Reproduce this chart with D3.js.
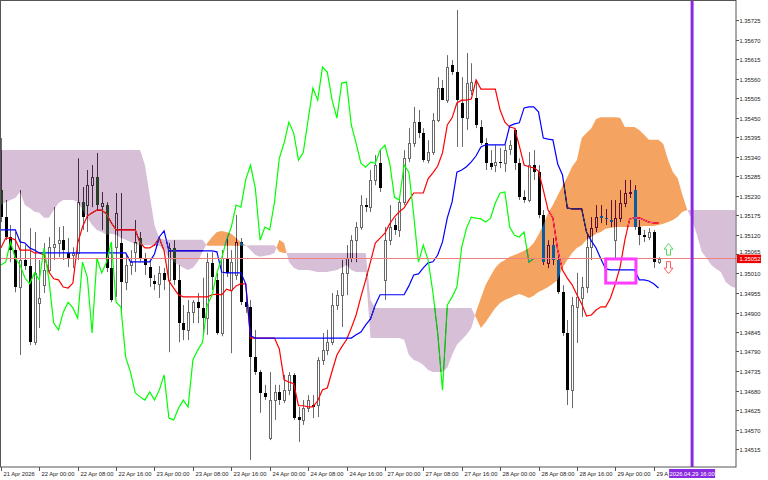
<!DOCTYPE html>
<html><head><meta charset="utf-8">
<script src="https://cdn.jsdelivr.net/npm/d3@7/dist/d3.min.js"></script>
<style>html,body{margin:0;padding:0;background:#fff;}svg{display:block;}</style>
</head><body>
<svg id="chart" width="768" height="480"></svg>
<script>
// ---------- DATA (H1 candles, 21 Apr 16:00 .. 29 Apr 09:00) ----------
const open = [1.35245,1.35169,1.35113,1.35076,1.34972,1.35048,1.35031,1.34816,1.34927,1.34978,
1.35020,1.35084,1.35096,1.35104,1.35068,1.35062,1.35068,1.35211,1.35203,1.35259,
1.35282,1.35200,1.35203,1.35026,1.35084,1.35096,1.34986,1.35034,1.35070,1.35110,
1.35053,1.35028,1.34989,1.34981,1.35012,1.34992,1.35082,1.34992,1.34870,1.34851,
1.34901,1.34929,1.34913,1.34884,1.35040,1.34992,1.34842,1.35053,1.34963,1.35006,
1.35099,1.34929,1.34915,1.34774,1.34732,1.34673,1.34546,1.34653,1.34676,1.34653,
1.34681,1.34724,1.34605,1.34597,1.34630,1.34639,1.34639,1.34766,1.34794,1.34816,
1.34921,1.34949,1.35012,1.35053,1.35104,1.35141,1.35203,1.35197,1.35274,1.35321,
1.34992,1.35104,1.35147,1.35133,1.35211,1.35335,1.35378,1.35437,1.35406,1.35330,
1.35352,1.35443,1.35533,1.35499,1.35598,1.35578,1.35491,1.35448,1.35527,1.35505,
1.35423,1.35378,1.35321,1.35316,1.35324,1.35321,1.35361,1.35415,1.35321,1.35225,
1.35217,1.35316,1.35296,1.35175,1.35040,1.35090,1.35048,1.34957,1.34842,1.34681,
1.34915,1.34941,1.34972,1.35084,1.35141,1.35172,1.35166,1.35161,1.35104,1.35166,
1.35209,1.35237,1.35245,1.35141,1.35118,1.35113,1.35127,1.35042];
const high = [1.35392,1.35217,1.35147,1.35127,1.35245,1.35090,1.35138,1.35127,1.35048,1.35096,
1.35113,1.35197,1.35141,1.35144,1.35110,1.35084,1.35335,1.35254,1.35302,1.35316,
1.35350,1.35240,1.35211,1.35099,1.35237,1.35237,1.35062,1.35076,1.35161,1.35127,
1.35068,1.35048,1.35006,1.35031,1.35026,1.35096,1.35104,1.35034,1.34921,1.34935,
1.34935,1.34955,1.34998,1.35068,1.35070,1.35012,1.35076,1.35113,1.35076,1.35175,
1.35110,1.34949,1.34935,1.34851,1.34738,1.34696,1.34732,1.34696,1.34696,1.34724,
1.34732,1.34729,1.34633,1.34653,1.34667,1.34667,1.34774,1.34842,1.34851,1.34955,
1.34963,1.35048,1.35090,1.35118,1.35155,1.35231,1.35223,1.35302,1.35344,1.35358,
1.35141,1.35203,1.35167,1.35223,1.35358,1.35420,1.35480,1.35471,1.35420,1.35386,
1.35462,1.35564,1.35556,1.35626,1.35612,1.35753,1.35564,1.35632,1.35603,1.35556,
1.35443,1.35392,1.35358,1.35372,1.35364,1.35372,1.35386,1.35420,1.35335,1.35245,
1.35352,1.35358,1.35316,1.35189,1.35104,1.35110,1.35062,1.34977,1.34879,1.34944,
1.35012,1.35000,1.35118,1.35169,1.35203,1.35203,1.35192,1.35217,1.35217,1.35245,
1.35274,1.35274,1.35259,1.35161,1.35133,1.35138,1.35133,1.35056];
const low = [1.35155,1.35104,1.35042,1.34957,1.34780,1.35020,1.34808,1.34808,1.34856,1.34955,
1.35012,1.35048,1.35056,1.35048,1.35028,1.35025,1.35048,1.35133,1.35127,1.35197,
1.35189,1.35133,1.35014,1.34929,1.34944,1.34899,1.34963,1.35006,1.35014,1.35042,
1.35006,1.34972,1.34963,1.34941,1.34963,1.34788,1.34978,1.34816,1.34822,1.34822,
1.34870,1.34870,1.34837,1.34837,1.34963,1.34837,1.34833,1.35000,1.34785,1.34992,
1.34921,1.34899,1.34484,1.34724,1.34617,1.34653,1.34540,1.34597,1.34639,1.34645,
1.34667,1.34597,1.34535,1.34583,1.34619,1.34602,1.34605,1.34752,1.34780,1.34808,
1.34907,1.34859,1.34949,1.35042,1.35042,1.35133,1.35183,1.35183,1.35259,1.35240,
1.34935,1.35090,1.35119,1.35113,1.35203,1.35324,1.35367,1.35392,1.35324,1.35321,
1.35344,1.35437,1.35499,1.35491,1.35570,1.35367,1.35367,1.35415,1.35513,1.35420,
1.35372,1.35302,1.35302,1.35296,1.35307,1.35296,1.35344,1.35302,1.35217,1.35209,
1.35211,1.35274,1.35166,1.35034,1.35025,1.35034,1.34952,1.34834,1.34639,1.34630,
1.34814,1.34887,1.34955,1.35048,1.35127,1.35152,1.35147,1.35141,1.35053,1.35155,
1.35197,1.35223,1.35133,1.35090,1.35099,1.35104,1.35026,1.35037];
const close = [1.35169,1.35113,1.35076,1.34972,1.35048,1.35031,1.34816,1.35012,1.34941,1.35020,
1.35084,1.35093,1.35104,1.35076,1.35053,1.35068,1.35211,1.35169,1.35259,1.35282,
1.35203,1.35209,1.35026,1.34935,1.35181,1.34986,1.35034,1.35042,1.35099,1.35053,
1.35034,1.34998,1.34981,1.35012,1.34992,1.35082,1.34992,1.34870,1.34851,1.34901,
1.34929,1.34913,1.34884,1.35042,1.35000,1.34842,1.35053,1.35012,1.35042,1.35099,
1.34929,1.34915,1.34774,1.34732,1.34673,1.34662,1.34653,1.34676,1.34653,1.34681,
1.34724,1.34602,1.34597,1.34630,1.34653,1.34633,1.34766,1.34794,1.34816,1.34921,
1.34949,1.35012,1.35053,1.35104,1.35141,1.35203,1.35197,1.35274,1.35316,1.35251,
1.35104,1.35141,1.35133,1.35211,1.35335,1.35378,1.35437,1.35406,1.35330,1.35352,
1.35443,1.35533,1.35499,1.35592,1.35578,1.35499,1.35448,1.35547,1.35550,1.35429,
1.35378,1.35321,1.35310,1.35324,1.35321,1.35358,1.35372,1.35321,1.35225,1.35217,
1.35316,1.35296,1.35175,1.35042,1.35090,1.35048,1.34957,1.34842,1.34681,1.34921,
1.34944,1.34972,1.35084,1.35138,1.35169,1.35166,1.35164,1.35155,1.35166,1.35209,
1.35237,1.35240,1.35141,1.35118,1.35113,1.35127,1.35042,1.35052];

// Ichimoku lines
const tenkan = [1.35082,1.35110,1.35110,1.35105,1.35076,1.35076,1.35076,1.35068,1.35068,1.35062,
1.35014,1.34995,1.34992,1.34972,1.34969,1.34983,1.35096,1.35141,1.35172,1.35181,
1.35189,1.35189,1.35178,1.35153,1.35133,1.35133,1.35133,1.35133,1.35133,1.35096,
1.35082,1.35082,1.35090,1.35110,1.35074,1.34989,1.34969,1.34950,1.34944,1.34944,
1.34944,1.34944,1.34944,1.34944,1.34950,1.34952,1.34950,1.34966,1.34961,1.34975,
1.34981,1.34981,1.34828,1.34828,1.34828,1.34828,1.34828,1.34828,1.34797,1.34710,
1.34704,1.34699,1.34637,1.34637,1.34634,1.34634,1.34651,1.34682,1.34687,1.34735,
1.34780,1.34803,1.34823,1.34856,1.34893,1.34944,1.34992,1.35043,1.35096,1.35110,
1.35124,1.35150,1.35170,1.35184,1.35195,1.35217,1.35237,1.35237,1.35237,1.35277,
1.35294,1.35313,1.35350,1.35429,1.35449,1.35491,1.35499,1.35499,1.35502,1.35556,
1.35530,1.35530,1.35530,1.35530,1.35471,1.35437,1.35423,1.35420,1.35370,1.35316,
1.35311,1.35308,1.35299,1.35246,1.35189,1.35167,1.35076,1.35020,1.34997,1.34978,
1.34950,1.34924,1.34890,1.34893,1.34907,1.34916,1.34916,1.34941,1.34981,1.35028,
1.35105,1.35164,1.35167,1.35167,1.35161,1.35155,1.35153,1.35153];
const kijun = [1.35133,1.35133,1.35133,1.35133,1.35099,1.35096,1.35082,1.35076,1.35068,1.35068,
1.35068,1.35068,1.35068,1.35068,1.35068,1.35068,1.35068,1.35068,1.35068,1.35068,
1.35068,1.35068,1.35068,1.35068,1.35068,1.35068,1.35068,1.35043,1.35043,1.35043,
1.35043,1.35043,1.35065,1.35113,1.35130,1.35074,1.35074,1.35074,1.35074,1.35074,
1.35074,1.35074,1.35074,1.35074,1.35074,1.35071,1.35014,1.35012,1.35012,1.35012,
1.35012,1.34981,1.34834,1.34828,1.34828,1.34828,1.34828,1.34828,1.34828,1.34828,
1.34828,1.34828,1.34828,1.34828,1.34828,1.34828,1.34828,1.34828,1.34828,1.34828,
1.34828,1.34828,1.34828,1.34828,1.34837,1.34845,1.34865,1.34882,1.34921,1.34950,
1.34950,1.34950,1.34950,1.34950,1.34950,1.34975,1.35006,1.35009,1.35026,1.35040,
1.35043,1.35062,1.35099,1.35167,1.35212,1.35296,1.35302,1.35311,1.35325,1.35342,
1.35367,1.35373,1.35373,1.35373,1.35373,1.35373,1.35426,1.35432,1.35435,1.35477,
1.35480,1.35480,1.35466,1.35392,1.35389,1.35387,1.35319,1.35288,1.35195,1.35192,
1.35192,1.35192,1.35127,1.35102,1.35082,1.35051,1.35023,1.35020,1.35020,1.35020,
1.35020,1.35020,1.35020,1.34992,1.34992,1.34989,1.34981,1.34969];
// Senkou spans (already shifted 26 bars forward; index = bar position on chart)
const spanA = [1.35203,1.35212,1.35217,1.35223,1.35240,1.35203,1.35195,1.35184,1.35181,1.35167,
1.35167,1.35189,1.35209,1.35217,1.35217,1.35217,1.35212,1.35189,1.35167,1.35147,
1.35133,1.35127,1.35119,1.35122,1.35119,1.35110,1.35105,1.35099,1.35093,1.35090,
1.35090,1.35090,1.35088,1.35088,1.35076,1.35054,1.35043,1.35034,1.35026,1.35020,
1.35026,1.35043,1.35071,1.35096,1.35113,1.35127,1.35130,1.35127,1.35122,1.35110,
1.35099,1.35090,1.35076,1.35062,1.35057,1.35060,1.35062,1.35068,1.35105,1.35096,
1.35043,1.35026,1.35020,1.35020,1.35020,1.35017,1.35014,1.35014,1.35014,1.35017,
1.35020,1.35026,1.35034,1.35020,1.35014,1.35014,1.35014,1.34828,1.34828,1.34828,
1.34828,1.34828,1.34828,1.34828,1.34823,1.34780,1.34766,1.34761,1.34752,1.34738,
1.34732,1.34732,1.34732,1.34744,1.34780,1.34809,1.34823,1.34837,1.34856,1.34902,
1.34941,1.34978,1.35003,1.35026,1.35040,1.35048,1.35057,1.35062,1.35068,1.35074,
1.35082,1.35096,1.35119,1.35147,1.35181,1.35203,1.35231,1.35257,1.35282,1.35311,
1.35330,1.35392,1.35406,1.35420,1.35446,1.35451,1.35451,1.35451,1.35451,1.35449,
1.35423,1.35423,1.35423,1.35415,1.35401,1.35387,1.35387,1.35387,1.35375,1.35330,
1.35296,1.35279,1.35231,1.35189,1.35161,1.35119,1.35071,1.35054,1.35034,1.35023,
1.35014,1.34986,1.34975,1.34969];
const spanB = [1.35358,1.35358,1.35358,1.35358,1.35358,1.35358,1.35358,1.35358,1.35358,1.35358,
1.35358,1.35358,1.35358,1.35358,1.35358,1.35358,1.35358,1.35358,1.35358,1.35358,
1.35358,1.35358,1.35358,1.35358,1.35358,1.35358,1.35358,1.35358,1.35358,1.35358,
1.35316,1.35231,1.35147,1.35110,1.35105,1.35105,1.35105,1.35105,1.35105,1.35105,
1.35105,1.35105,1.35105,1.35088,1.35088,1.35088,1.35088,1.35088,1.35088,1.35088,
1.35088,1.35088,1.35090,1.35090,1.35090,1.35090,1.35090,1.35090,1.35071,1.35068,
1.35068,1.35068,1.35068,1.35068,1.35068,1.35068,1.35068,1.35068,1.35068,1.35068,
1.35068,1.35068,1.35068,1.35068,1.35068,1.35068,1.35068,1.34935,1.34913,1.34913,
1.34913,1.34913,1.34913,1.34913,1.34913,1.34913,1.34913,1.34913,1.34913,1.34913,
1.34913,1.34913,1.34913,1.34913,1.34913,1.34913,1.34913,1.34913,1.34913,1.34885,
1.34856,1.34873,1.34893,1.34913,1.34927,1.34935,1.34941,1.34947,1.34952,1.34947,
1.34941,1.34947,1.34958,1.34964,1.34972,1.34981,1.34992,1.35026,1.35048,1.35068,
1.35082,1.35090,1.35105,1.35113,1.35122,1.35127,1.35136,1.35138,1.35141,1.35141,
1.35141,1.35141,1.35141,1.35141,1.35144,1.35144,1.35144,1.35147,1.35150,1.35155,
1.35161,1.35170,1.35184,1.35189,1.35189,1.35189,1.35189,1.35189,1.35189,1.35189,
1.35189,1.35189,1.35189,1.35189];
const chikouShift = 26;

// axis labels
const priceTicks = [1.35725,1.35670,1.35615,1.35560,1.35505,1.35450,1.35395,1.35340,1.35285,1.35230,1.35175,1.35120,
1.35065,1.35010,1.34955,1.34900,1.34845,1.34790,1.34735,1.34680,1.34625,1.34570,1.34515];
const timeLabels = ["21 Apr 2026","22 Apr 00:00","22 Apr 08:00","22 Apr 16:00","23 Apr 00:00","23 Apr 08:00",
"23 Apr 16:00","24 Apr 00:00","24 Apr 08:00","24 Apr 16:00","27 Apr 00:00","27 Apr 08:00","27 Apr 16:00",
"28 Apr 00:00","28 Apr 08:00","28 Apr 16:00","29 Apr 00:00","29 Apr 08:00"];
const timeLabelIndex = [0,8,16,24,32,40,48,56,64,72,80,88,96,104,112,120,128,136];
const currentPrice = 1.35052;
const vlineIndex = 144, vlineLabel = "2026.04.29 16:00";
const boxObj = {i0:126, i1:132.3, p0:1.35051, p1:1.34983};
const arrowIndex = 139;

// ---------- DRAW ----------
const W=768, H=480, PR=736, PB=467;
const svg = d3.select('#chart');
const x = d3.scaleLinear().domain([0,137]).range([0.9,658.5]);
const y = d3.scaleLinear().domain([1.34515,1.35725]).range([449,20]);
const FONT = "'Liberation Sans', Arial, sans-serif";

svg.append('rect').attr('width',W).attr('height',H).attr('fill','#fff');
const defs = svg.append('defs');
defs.append('clipPath').attr('id','plot')
  .append('rect').attr('x',0).attr('y',0).attr('width',PR).attr('height',PB);
const g = svg.append('g').attr('clip-path','url(#plot)');
g.append('rect').attr('x',0).attr('y',0).attr('width',PR).attr('height',PB).attr('fill','#fff');

// candles
const idx = d3.range(close.length);
const cx = i => Math.round(x(i)) + 0.5;
g.append('g').selectAll('line').data(idx).join('line')
  .attr('x1',cx).attr('x2',cx)
  .attr('y1',i=>y(high[i])).attr('y2',i=>y(low[i]))
  .attr('stroke','#6a6a6a').attr('stroke-width',1);
const bull = idx.filter(i=>close[i]>=open[i]);
const bear = idx.filter(i=>close[i]<open[i]);
g.append('g').selectAll('rect').data(bull).join('rect')
  .attr('x',i=>cx(i)-1).attr('width',2)
  .attr('y',i=>Math.round(y(close[i]))+0.5)
  .attr('height',i=>Math.max(1,Math.round(y(open[i]))-Math.round(y(close[i]))))
  .attr('fill','#fff').attr('stroke','#6a6a6a').attr('stroke-width',1);
g.append('g').selectAll('rect').data(bear).join('rect')
  .attr('x',i=>cx(i)-1.5).attr('width',3)
  .attr('y',i=>Math.round(y(open[i])))
  .attr('height',i=>Math.max(1,Math.round(y(close[i]))-Math.round(y(open[i]))))
  .attr('fill','#000');

// lines
const ln = arr => d3.line().x((d,i)=>x(i)).y(d=>y(d))(arr);
g.append('path').attr('d',ln(tenkan)).attr('fill','none').attr('stroke','#ff0000').attr('stroke-width',1.2);
g.append('path').attr('d',ln(kijun)).attr('fill','none').attr('stroke','#0000ff').attr('stroke-width',1.2);
const chik = d3.range(close.length-chikouShift).map(i=>[x(i), y(close[i+chikouShift])]);
g.append('path').attr('d',d3.line()(chik)).attr('fill','none').attr('stroke','#00ff00').attr('stroke-width',1.2);

// cloud runs
const runs=[]; let cur=null;
for(let k=0;k<spanA.length;k++){
  const a=spanA[k], b=spanB[k], s=a>=b?1:-1;
  if(!cur){cur={s,pts:[{k,a,b}]};continue;}
  if(s===cur.s){cur.pts.push({k,a,b});}
  else{
    const p=cur.pts[cur.pts.length-1];
    const d0=p.a-p.b, d1=a-b, t=d0/(d0-d1);
    const kc=p.k+t, vc=p.a+(a-p.a)*t;
    cur.pts.push({k:kc,a:vc,b:vc}); runs.push(cur);
    cur={s,pts:[{k:kc,a:vc,b:vc},{k,a,b}]};
  }
}
runs.push(cur);
const cloud = g.append('g');
runs.forEach(r=>{
  const pts = r.pts.map(p=>[x(p.k),y(p.a)]).concat(r.pts.slice().reverse().map(p=>[x(p.k),y(p.b)]));
  cloud.append('path').attr('d','M'+pts.map(p=>p.join(',')).join('L')+'Z')
    .attr('fill', r.s>0 ? '#0b5b9f' : '#274027')
    .style('mix-blend-mode','difference');
});

// current price line
const py = y(currentPrice);
g.append('line').attr('x1',0).attr('x2',PR).attr('y1',Math.floor(py)+0.5).attr('y2',Math.floor(py)+0.5)
  .attr('stroke','#f08080').attr('stroke-width',1);

// rectangle object
g.append('rect').attr('x',x(boxObj.i0)).attr('y',y(boxObj.p0))
  .attr('width',x(boxObj.i1)-x(boxObj.i0)).attr('height',y(boxObj.p1)-y(boxObj.p0))
  .attr('fill','none').attr('stroke','#ff3cff').attr('stroke-width',3);

// arrows
const ax = Math.round(x(arrowIndex))+0.5;
const up = `M${ax},${py-15}L${ax+4.5},${py-9.5}L${ax+2},${py-9.5}L${ax+2},${py-3.5}L${ax-2},${py-3.5}L${ax-2},${py-9.5}L${ax-4.5},${py-9.5}Z`;
const dn = `M${ax},${py+15}L${ax+4.5},${py+9.5}L${ax+2},${py+9.5}L${ax+2},${py+3}L${ax-2},${py+3}L${ax-2},${py+9.5}L${ax-4.5},${py+9.5}Z`;
g.append('path').attr('d',up).attr('fill','#fff').attr('stroke','#5ad65a').attr('stroke-width',1);
g.append('path').attr('d',dn).attr('fill','#fff').attr('stroke','#ff5a5a').attr('stroke-width',1);

// vertical line
const vx = x(vlineIndex);
g.append('line').attr('x1',vx).attr('x2',vx).attr('y1',0).attr('y2',PB)
  .attr('stroke','#8a2be2').attr('stroke-width',3);

// frame
svg.append('rect').attr('x',0.5).attr('y',0.5).attr('width',PR-0.5).attr('height',PB-0.5)
  .attr('fill','none').attr('stroke','#555').attr('stroke-width',1);

// price axis
const ya = svg.append('g');
priceTicks.forEach(v=>{
  const yy=Math.round(y(v))+0.5;
  ya.append('line').attr('x1',PR).attr('x2',PR+3).attr('y1',yy).attr('y2',yy).attr('stroke','#555');
  const near = Math.abs(y(v)-y(currentPrice))<6;
  ya.append('text').attr('x',PR+3.5).attr('y',near? yy-2.5 : yy).attr('dy','0.35em')
    .attr('font-family',FONT).attr('font-size',5.8).attr('fill','#222').text(v.toFixed(5));
});
ya.append('rect').attr('x',PR+1).attr('y',py-4).attr('width',24).attr('height',8.5).attr('fill','#ee0000');
ya.append('text').attr('x',PR+3.5).attr('y',py+0.3).attr('dy','0.35em')
  .attr('font-family',FONT).attr('font-size',5.8).attr('fill','#fff').text(currentPrice.toFixed(5));

// time axis
const xa = svg.append('g');
const tagLeft = vx-23;
timeLabels.forEach((t,k)=>{
  const xx=Math.round(x(timeLabelIndex[k]))+0.5;
  xa.append('line').attr('x1',xx).attr('x2',xx).attr('y1',PB).attr('y2',PB+4).attr('stroke','#555');
  const tx = xa.append('text').attr('x',xx+2).attr('y',PB+8.5)
    .attr('font-family',FONT).attr('font-size',5.8).attr('fill','#222').text(t);
  // the time tag of the vertical line hides the end of a label that runs under it
  let s=t;
  while(s.length>1 && xx+2+tx.node().getComputedTextLength()>tagLeft-0.5){ s=s.slice(0,-1); tx.text(s); }
});
xa.append('rect').attr('x',tagLeft).attr('y',PB+2).attr('width',46).attr('height',9).attr('fill','#8a2be2');
xa.append('text').attr('x',vx).attr('y',PB+8.5).attr('text-anchor','middle')
  .attr('font-family',FONT).attr('font-size',5.8).attr('fill','#fff').text(vlineLabel);
</script>
</body></html>
